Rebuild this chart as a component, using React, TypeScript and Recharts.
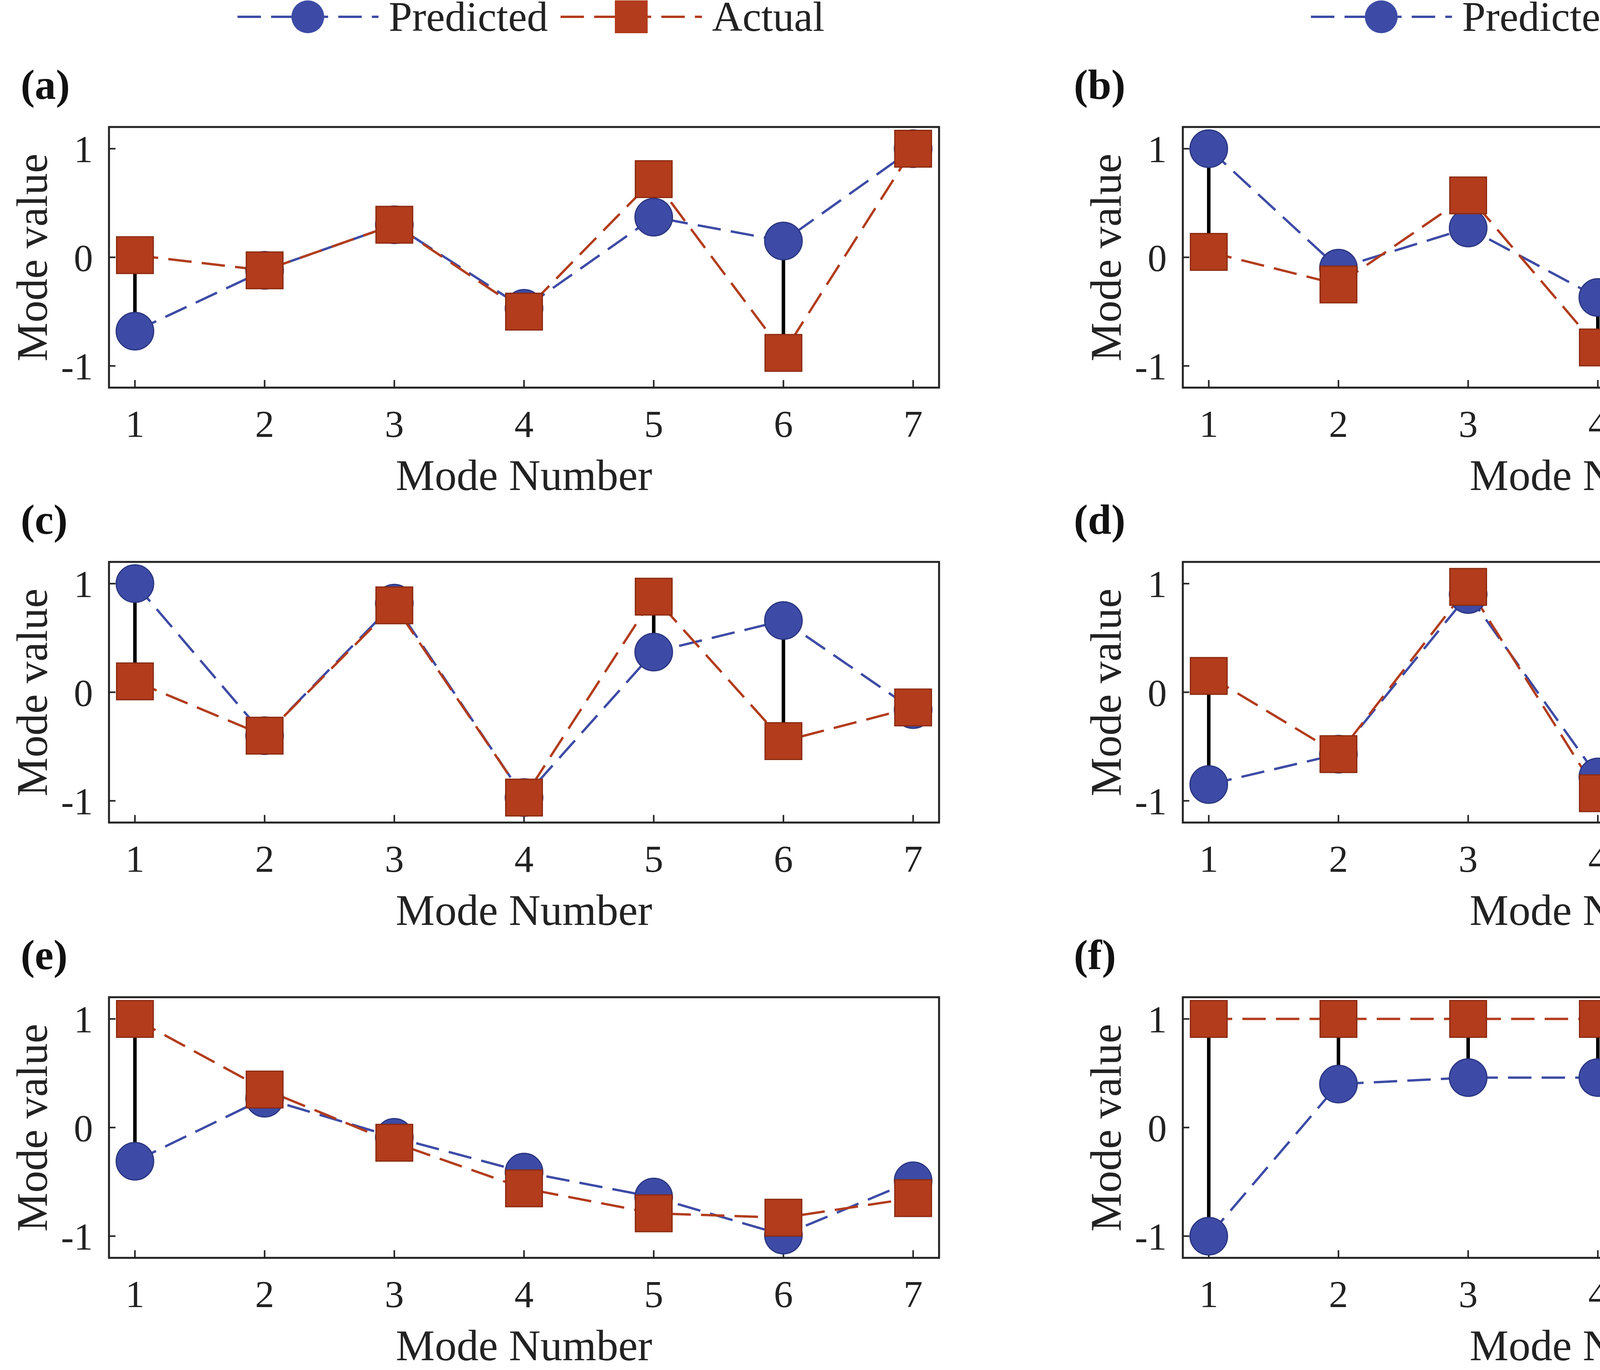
import { LineChart, Line, XAxis, YAxis, ReferenceLine, ReferenceArea } from "recharts";

const modes = [1, 2, 3, 4, 5, 6, 7];
const panelLabels = ["(a)", "(b)", "(c)", "(d)", "(e)", "(f)"];
const predicted = [
  [-0.68, -0.12, 0.3, -0.47, 0.37, 0.15, 1.0],
  [1.0, -0.1, 0.27, -0.37, 0.23, 0.2, 0.37],
  [1.0, -0.4, 0.82, -0.97, 0.37, 0.66, -0.16],
  [-0.85, -0.57, 0.9, -0.78, -0.02, 1.0, -0.9],
  [-0.31, 0.27, -0.09, -0.41, -0.64, -0.99, -0.49],
  [-1.0, 0.4, 0.46, 0.46, 0.53, 0.73, 0.49],
];
const actual = [
  [0.02, -0.12, 0.3, -0.5, 0.72, -0.88, 1.0],
  [0.05, -0.25, 0.57, -0.83, 1.0, -0.97, 0.77],
  [0.1, -0.4, 0.8, -0.97, 0.88, -0.45, -0.14],
  [0.15, -0.57, 0.97, -0.93, 0.42, 0.38, -0.9],
  [1.0, 0.35, -0.14, -0.56, -0.79, -0.83, -0.65],
  [1.0, 1.0, 1.0, 1.0, 1.0, 1.0, 1.0],
];
const yTicks = [-1, 0, 1];

const BLUE = "#3D4BA6";
const RED = "#B23C1C";
const FONT = "'Liberation Serif', 'DejaVu Serif', serif";

const PLOT_W = 2125;
const PLOT_H = 667;
const COL_LEFT = [279, 3028];
const ROW_TOP = [325, 1438, 2552];
const Y_AXIS_W = 279;
const M = { left: 0, right: 30, top: 10, bottom: 270 };
const LABEL_LEFT = [53, 0];

const Circle = (p: any) =>
  p.cx == null ? null : <circle cx={p.cx} cy={p.cy} r={48} fill={BLUE} stroke="#2a3580" strokeWidth={3} />;
const Square = (p: any) =>
  p.cx == null ? null : <rect x={p.cx - 47} y={p.cy - 47} width={94} height={94} fill={RED} stroke="#8a2a10" strokeWidth={3} />;

function Panel({ idx }: { idx: number }) {
  const col = idx % 2;
  const row = Math.floor(idx / 2);
  const data = modes.map((m, i) => ({ m, p: predicted[idx][i], a: actual[idx][i] }));
  const left = COL_LEFT[col] - Y_AXIS_W;
  const top = ROW_TOP[row] - M.top;
  const tick = { fontSize: 98, fill: "#222", fontFamily: FONT };
  return (
    <div style={{ position: "absolute", left, top }}>
      <LineChart width={PLOT_W + Y_AXIS_W + M.right} height={PLOT_H + M.top + M.bottom + 30} data={data} margin={M}>
        <XAxis dataKey="m" type="number" domain={[0.8, 7.2]} ticks={modes} tick={tick} axisLine={false} tickLine={false} tickMargin={50} height={30} />
        <YAxis type="number" domain={[-1.2, 1.2]} ticks={yTicks} tick={tick} axisLine={false} tickLine={false} tickMargin={35} width={Y_AXIS_W} allowDataOverflow />
        <ReferenceArea x1={0.8} x2={7.2} y1={-1.2} y2={1.2} fill="none" stroke="#222" strokeWidth={5} />
        {modes.map((m) => (
          <ReferenceLine key={"t" + m} segment={[{ x: m, y: -1.2 }, { x: m, y: -1.13 }]} stroke="#222" strokeWidth={4} />
        ))}
        {yTicks.map((t) => (
          <ReferenceLine key={"y" + t} segment={[{ x: 0.8, y: t }, { x: 0.85, y: t }]} stroke="#222" strokeWidth={4} />
        ))}
        {data.map((d) => (
          <ReferenceLine key={"s" + d.m} segment={[{ x: d.m, y: d.p }, { x: d.m, y: d.a }]} stroke="#000" strokeWidth={9} />
        ))}
        <Line dataKey="p" stroke={BLUE} strokeWidth={6} strokeDasharray="60 26" dot={<Circle />} isAnimationActive={false} />
        <Line dataKey="a" stroke={RED} strokeWidth={6} strokeDasharray="60 26" dot={<Square />} isAnimationActive={false} />
      </LineChart>
      <div style={{ position: "absolute", left: 0, top: M.top + PLOT_H / 2, width: 0, height: 0 }}>
        <div style={{ position: "absolute", transform: "translate(-50%,-50%) rotate(-90deg)", left: 82, top: 0, whiteSpace: "nowrap", fontFamily: FONT, fontSize: 112, color: "#222" }}>
          Mode value
        </div>
      </div>
      <div style={{ position: "absolute", left: Y_AXIS_W, width: PLOT_W, top: M.top + PLOT_H + 160, textAlign: "center", fontFamily: FONT, fontSize: 112, color: "#222" }}>
        Mode Number
      </div>
      <div style={{ position: "absolute", left: LABEL_LEFT[col], top: M.top - 170, fontFamily: FONT, fontSize: 108, fontWeight: "bold", color: "#111" }}>
        {panelLabels[idx]}
      </div>
    </div>
  );
}

function Legend({ left }: { left: number }) {
  return (
    <div style={{ position: "absolute", left, top: -27, height: 140, display: "flex", alignItems: "center", fontFamily: FONT, fontSize: 108, color: "#222" }}>
      <svg width={361} height={140}>
        <line x1={0} y1={70} x2={361} y2={70} stroke={BLUE} strokeWidth={6} strokeDasharray="60 26" />
        <circle cx={180} cy={70} r={42} fill={BLUE} />
      </svg>
      <span style={{ marginLeft: 26, marginRight: 32 }}>Predicted</span>
      <svg width={362} height={140}>
        <line x1={0} y1={70} x2={362} y2={70} stroke={RED} strokeWidth={6} strokeDasharray="60 26" />
        <rect x={139} y={28} width={84} height={84} fill={RED} />
      </svg>
      <span style={{ marginLeft: 26 }}>Actual</span>
    </div>
  );
}

export default function App() {
  return (
    <div style={{ position: "absolute", left: 0, top: 0, width: 5150, height: 3506, background: "#fff", overflow: "hidden" }}>
      <Legend left={608} />
      <Legend left={3356} />
      {[0, 1, 2, 3, 4, 5].map((i) => (
        <Panel key={i} idx={i} />
      ))}
    </div>
  );
}
